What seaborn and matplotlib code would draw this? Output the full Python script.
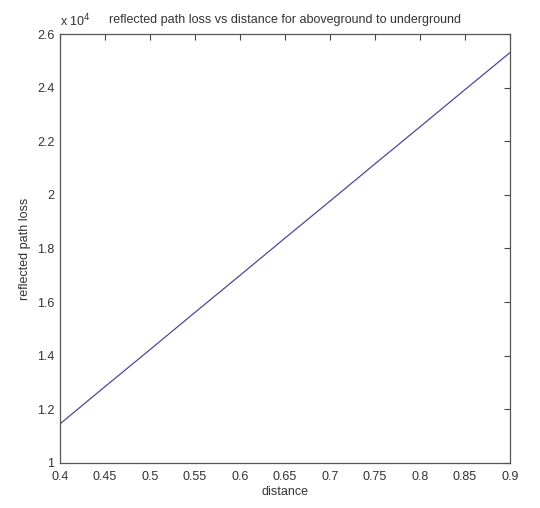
import numpy as np
import pandas as pd
import seaborn as sns
import matplotlib.pyplot as plt

# values (path loss in units of 1e4)
distance = [0.40, 0.45, 0.50, 0.55, 0.60, 0.65, 0.70, 0.75, 0.80, 0.85, 0.90]
path_loss = [11450, 12840, 14220, 15610, 16990, 18380, 19760, 21150, 22530, 23920, 25300]
x_ticks = [0.4, 0.45, 0.5, 0.55, 0.6, 0.65, 0.7, 0.75, 0.8, 0.85, 0.9]
x_labels = ['0.4', '0.45', '0.5', '0.55', '0.6', '0.65', '0.7', '0.75', '0.8', '0.85', '0.9']
y_ticks = [10000, 12000, 14000, 16000, 18000, 20000, 22000, 24000, 26000]
y_labels = ['1', '1.2', '1.4', '1.6', '1.8', '2', '2.2', '2.4', '2.6']

sns.set_style("white")
plt.rcParams['font.family'] = ['Liberation Sans', 'DejaVu Sans']

df = pd.DataFrame({'distance': distance, 'loss': path_loss})

fig = plt.figure(figsize=(5.4, 5.08), dpi=100)
ax = fig.add_axes([0.111, 0.089, 0.833, 0.844])

sns.lineplot(data=df, x='distance', y='loss', ax=ax, color='#4a4a9a', linewidth=0.9)

ax.set_xlim(0.4, 0.9)
ax.set_ylim(10000, 26000)
ax.set_xticks(x_ticks)
ax.set_xticklabels(x_labels)
ax.set_yticks(y_ticks)
ax.set_yticklabels(y_labels)
ax.tick_params(direction='in', top=True, right=True, length=4, width=0.8,
               labelsize=9, colors='#444444', labelcolor='#333333')
ax.tick_params(axis='x', pad=6)
ax.tick_params(axis='y', pad=4)
for s in ax.spines.values():
    s.set_color('#555555')
    s.set_linewidth(0.9)

ax.set_xlabel('distance', fontsize=9, color='#333333', labelpad=2)
ax.set_ylabel('reflected path loss', fontsize=9, color='#333333', labelpad=4)
ax.text(0.0, 1.01, r'x 10$^4$', transform=ax.transAxes, fontsize=9,
        color='#333333', ha='left', va='bottom')
ax.set_title('reflected path loss vs distance for aboveground to underground',
             fontsize=9, color='#333333', pad=8)

fig.savefig('out.png', dpi=100)
